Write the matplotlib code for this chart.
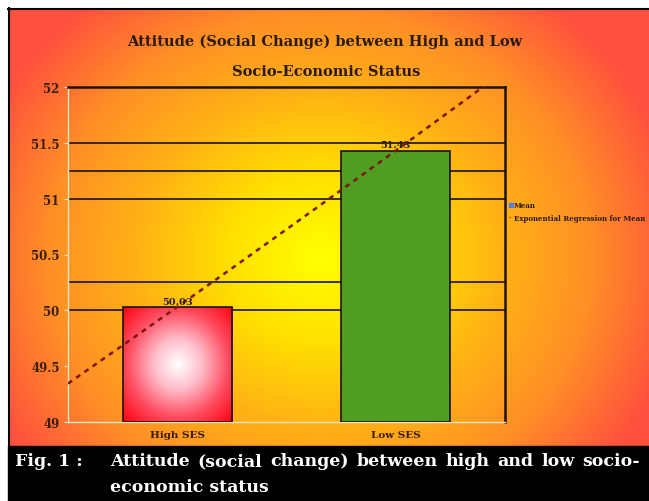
import numpy as np
import matplotlib
matplotlib.use("Agg")
import matplotlib.pyplot as plt
from matplotlib.colors import LinearSegmentedColormap
from matplotlib.lines import Line2D

plt.rcParams['font.family'] = ['DejaVu Serif']
plt.rcParams['font.weight'] = 'bold'

# data
categories = ["High SES", "Low SES"]
means = [50.03, 51.43]
grid_levels = [51.5, 51.25, 51.0, 50.25, 50.0]
y_ticks = [49, 49.5, 50, 50.5, 51, 51.5, 52]
title_lines = ["Attitude (Social Change) between High and Low", "Socio-Economic Status"]
caption_label = "Fig. 1 :"
caption_line1 = "Attitude (social change) between high and low socio-"
caption_line2 = "economic status"

W, H = 649, 502
fig = plt.figure(figsize=(W / 100, H / 100), dpi=100)
fig.patch.set_facecolor("white")

# full-figure axes in pixel units for the backdrop and caption
bg = fig.add_axes([0, 0, 1, 1])
bg.set_xlim(0, W)
bg.set_ylim(H, 0)
bg.axis("off")

# radial yellow -> orange -> red backdrop
bg_cmap = LinearSegmentedColormap.from_list("bg", [
    (0.0, (1.0, 1.0, 0.0)),
    (0.25, (1.0, 0.88, 0.0)),
    (0.5, (1.0, 0.70, 0.08)),
    (0.75, (1.0, 0.56, 0.15)),
    (1.0, (1.0, 0.32, 0.24)),
])
gx, gy = np.meshgrid(np.arange(9, W + 1), np.arange(9, 448))
cx, cy = 320, 260
t = np.sqrt(((gx - cx) / 330.0) ** 2 + ((gy - cy) / 300.0) ** 2)
t = np.clip(t / 1.1, 0, 1)
bg.imshow(t, cmap=bg_cmap, vmin=0, vmax=1, extent=(9, W, 447, 9),
          aspect="auto", interpolation="bilinear", zorder=0)
bg.plot([8, W], [9.5, 9.5], color="black", lw=1.5, zorder=1)
bg.plot([8.5, 8.5], [9, 447], color="black", lw=1.5, zorder=1)
bg.add_patch(plt.Rectangle((8, 447), W - 8, H - 447, color="black", zorder=1))

# title
bg.text(325, 42, title_lines[0], ha="center", va="center", fontsize=10.5,
        color="#2a1a10", zorder=2)
bg.text(326, 72, title_lines[1], ha="center", va="center", fontsize=10.5,
        color="#2a1a10", zorder=2)

# caption, first line justified between the margins
cap_size = 12.5
bg.text(15, 462, caption_label, ha="left", va="center", fontsize=cap_size,
        color="white", zorder=2)
words = caption_line1.split()
word_texts = [bg.text(0, 462, w, ha="left", va="center", fontsize=cap_size,
                      color="white", zorder=2) for w in words]
renderer = fig.canvas.get_renderer()
widths = [wt.get_window_extent(renderer).width for wt in word_texts]
x0, x1 = 110, 640
gap = (x1 - x0 - sum(widths)) / (len(words) - 1)
xpos = x0
for wt, wd in zip(word_texts, widths):
    wt.set_x(xpos)
    xpos += wd + gap
bg.text(x0, 488, caption_line2, ha="left", va="center", fontsize=cap_size,
        color="white", zorder=2)

# plot area
ax = fig.add_axes([68 / W, (H - 423) / H, 437 / W, (423 - 88) / H])
ax.patch.set_alpha(0)
x = np.arange(len(categories))
ax.set_xlim(-0.5, 1.5)
ax.set_ylim(49, 52)

for lvl in grid_levels:
    ax.axhline(lvl, color="#1a1208", lw=1.2, zorder=1)

bars = ax.bar(x, np.array(means) - 49, bottom=49, width=0.5,
              edgecolor="#1a1208", linewidth=1.2, zorder=3)
bars[0].set_facecolor("none")
bars[1].set_facecolor("#4f9e22")

# white-centred red fill for the first bar
bx, by = np.meshgrid(np.linspace(-1, 1, 200), np.linspace(-1, 1, 200))
r = np.clip(np.sqrt(bx ** 2 + by ** 2) / np.sqrt(2), 0, 1)
red_cmap = LinearSegmentedColormap.from_list("redglow", [
    (0.0, (1.0, 1.0, 1.0)),
    (0.3, (1.0, 0.75, 0.8)),
    (0.65, (1.0, 0.3, 0.38)),
    (1.0, (1.0, 0.0, 0.05)),
])
img = ax.imshow(r, cmap=red_cmap, vmin=0, vmax=1,
                extent=(x[0] - 0.25, x[0] + 0.25, 49, means[0]),
                aspect="auto", zorder=2.5, interpolation="bilinear")
img.set_clip_path(bars[0])

# exponential trendline through the means (Excel-style index 1, 2)
b = np.log(means[1] / means[0])
a = means[0] / np.exp(b)
xs = np.linspace(-0.5, 1.5, 300)
ax.plot(xs, a * np.exp(b * (xs + 1)), color="#7e1510", lw=1.8,
        dashes=(2.0, 2.0), zorder=4)

for xi, v in zip(x, means):
    ax.text(xi, v + 0.012, f"{v:.2f}", ha="center", va="bottom",
            fontsize=7, color="#2a1a10", zorder=5)

ax.set_yticks(y_ticks)
ax.set_yticklabels([f"{v:g}" for v in y_ticks])
ax.set_xticks(x)
ax.set_xticklabels(categories)
ax.tick_params(axis="y", colors="#f3e2c4", length=3, width=0.8,
               labelsize=8.5, labelcolor="#3a1c10", pad=3)
ax.tick_params(axis="x", length=0, labelsize=7.5, labelcolor="#3a1c10", pad=6)
for side in ("left", "bottom"):
    ax.spines[side].set_color("#f3e2c4")
    ax.spines[side].set_linewidth(1.0)
for side in ("top", "right"):
    ax.spines[side].set_color("#1a1208")
    ax.spines[side].set_linewidth(1.8)

handles = [
    Line2D([], [], marker="s", color="#5c7fd4", linestyle="none", markersize=3),
    Line2D([], [], color="#8b1a12", linestyle=":", lw=0.8),
]
fig.legend(handles, ["Mean", "Exponential Regression for Mean"],
           loc="upper left", bbox_to_anchor=(506 / W, 1 - 199 / H),
           fontsize=5, frameon=False, handlelength=0.4, handletextpad=0.25,
           labelspacing=0.6, borderpad=0, labelcolor="#2a1a10")

fig.savefig("out.png", dpi=100)
